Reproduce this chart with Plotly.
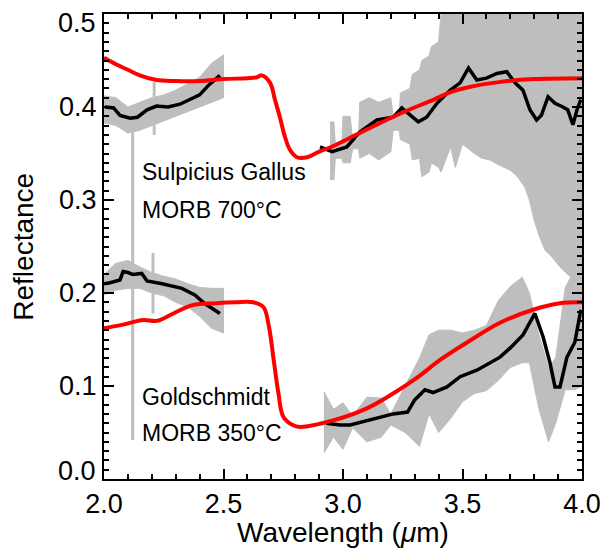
import plotly.graph_objects as go

# ---------------- data ----------------
# Sulpicius Gallus (upper) - model (red)
sg_model_x = [2.00, 2.05, 2.10, 2.15, 2.22, 2.30, 2.40, 2.50, 2.60, 2.64, 2.66, 2.695, 2.715, 2.736, 2.757,
              2.778, 2.807, 2.85, 2.90, 2.95, 3.07, 3.24, 3.38, 3.45, 3.52, 3.66, 3.80, 4.00]
sg_model_y = [0.453, 0.446, 0.440, 0.434, 0.429, 0.428, 0.428, 0.430, 0.431, 0.432, 0.434, 0.426, 0.408, 0.389, 0.368,
              0.354, 0.346, 0.346, 0.352, 0.357, 0.372, 0.393, 0.408, 0.416, 0.421, 0.427, 0.430, 0.431]
# Sulpicius Gallus - smoothed spectrum (black)
sg_obs1_x = [2.004, 2.04, 2.067, 2.11, 2.14, 2.18, 2.22, 2.268, 2.318, 2.36, 2.40, 2.44, 2.485]
sg_obs1_y = [0.400, 0.399, 0.391, 0.388, 0.389, 0.397, 0.401, 0.400, 0.403, 0.408, 0.413, 0.424, 0.434]
sg_obs2_x = [2.904, 2.954, 3.016, 3.07, 3.142, 3.21, 3.246, 3.315, 3.35, 3.393, 3.448, 3.49, 3.525, 3.56, 3.60,
             3.644, 3.685, 3.72, 3.753, 3.782, 3.81, 3.83, 3.858, 3.887, 3.92, 3.94, 3.962, 3.979, 3.995]
sg_obs2_y = [0.357, 0.352, 0.357, 0.373, 0.386, 0.389, 0.399, 0.384, 0.389, 0.404, 0.418, 0.426, 0.442, 0.429, 0.431,
             0.436, 0.438, 0.426, 0.418, 0.397, 0.386, 0.391, 0.411, 0.404, 0.400, 0.397, 0.381, 0.397, 0.408]
# Sulpicius Gallus - raw spectrum envelope (grey)
sg_raw1_x = [2.00, 2.05, 2.10, 2.15, 2.20, 2.25, 2.30, 2.35, 2.40, 2.45, 2.50]
sg_raw1_hi = [0.412, 0.410, 0.400, 0.405, 0.410, 0.413, 0.418, 0.425, 0.432, 0.447, 0.456]
sg_raw1_lo = [0.383, 0.380, 0.372, 0.375, 0.380, 0.385, 0.390, 0.395, 0.400, 0.405, 0.410]
sg_raw2_x = [2.946, 2.962, 2.968, 2.995, 3.00, 3.03, 3.04, 3.065, 3.07, 3.11, 3.15, 3.20, 3.21, 3.235, 3.24,
             3.28, 3.29, 3.32, 3.33, 3.36, 3.37, 3.40, 3.41, 3.45, 3.47, 3.50, 3.55, 3.58, 3.615, 3.65,
             3.70, 3.73, 3.76, 3.78, 3.80, 3.82, 3.845, 3.87, 3.908, 3.94, 3.97, 4.00]
sg_raw2_hi = [0.384, 0.384, 0.360, 0.360, 0.390, 0.390, 0.365, 0.365, 0.405, 0.410, 0.405, 0.410, 0.390, 0.390, 0.415,
              0.420, 0.435, 0.440, 0.450, 0.455, 0.465, 0.470, 0.500, 0.500, 0.500, 0.500, 0.500, 0.500, 0.500, 0.500,
              0.500, 0.500, 0.500, 0.500, 0.500, 0.500, 0.500, 0.500, 0.500, 0.500, 0.500, 0.500]
sg_raw2_lo = [0.322, 0.322, 0.345, 0.345, 0.340, 0.340, 0.355, 0.355, 0.345, 0.350, 0.343, 0.352, 0.375, 0.375, 0.365,
              0.360, 0.343, 0.345, 0.325, 0.330, 0.340, 0.335, 0.330, 0.357, 0.335, 0.360, 0.350, 0.345, 0.343, 0.338,
              0.332, 0.325, 0.314, 0.300, 0.278, 0.262, 0.246, 0.240, 0.228, 0.220, 0.214, 0.212]

# Goldschmidt (lower) - model (red)
gs_model_x = [2.00, 2.08, 2.165, 2.22, 2.29, 2.37, 2.47, 2.55, 2.625, 2.667, 2.69, 2.71, 2.73, 2.75, 2.79, 2.82,
              2.958, 3.10, 3.21, 3.31, 3.406, 3.52, 3.657, 3.795, 3.908, 4.00]
gs_model_y = [0.162, 0.166, 0.171, 0.170, 0.178, 0.187, 0.189, 0.190, 0.190, 0.185, 0.164, 0.128, 0.092, 0.067, 0.058,
              0.056, 0.063, 0.076, 0.092, 0.109, 0.128, 0.147, 0.168, 0.182, 0.189, 0.190]
# Goldschmidt - smoothed spectrum (black)
gs_obs1_x = [2.00, 2.025, 2.067, 2.08, 2.10, 2.12, 2.158, 2.18, 2.243, 2.326, 2.38, 2.42, 2.485]
gs_obs1_y = [0.210, 0.211, 0.214, 0.223, 0.222, 0.220, 0.221, 0.213, 0.210, 0.205, 0.198, 0.189, 0.178]
gs_obs2_x = [2.93, 2.987, 3.03, 3.10, 3.155, 3.21, 3.27, 3.30, 3.343, 3.377, 3.435, 3.49, 3.56, 3.60, 3.657,
             3.70, 3.753, 3.803, 3.837, 3.866, 3.887, 3.908, 3.937, 3.97, 3.995]
gs_obs2_y = [0.060, 0.058, 0.058, 0.063, 0.067, 0.070, 0.072, 0.085, 0.096, 0.093, 0.099, 0.110, 0.117, 0.123, 0.131,
             0.141, 0.155, 0.178, 0.153, 0.125, 0.099, 0.099, 0.131, 0.147, 0.182]
# Goldschmidt - raw spectrum envelope (grey)
gs_raw1_x = [2.00, 2.05, 2.10, 2.15, 2.20, 2.25, 2.30, 2.35, 2.40, 2.45, 2.50]
gs_raw1_hi = [0.220, 0.232, 0.235, 0.228, 0.222, 0.218, 0.215, 0.210, 0.206, 0.205, 0.205]
gs_raw1_lo = [0.198, 0.203, 0.205, 0.205, 0.200, 0.197, 0.190, 0.185, 0.175, 0.162, 0.157]
gs_raw2_x = [2.92, 2.96, 3.00, 3.04, 3.10, 3.16, 3.20, 3.26, 3.32, 3.36, 3.40, 3.45, 3.50, 3.55, 3.60,
             3.65, 3.70, 3.75, 3.78, 3.82, 3.86, 3.89, 3.93, 3.97, 4.00]
gs_raw2_hi = [0.094, 0.075, 0.082, 0.068, 0.088, 0.087, 0.070, 0.100, 0.130, 0.155, 0.160, 0.160, 0.157, 0.160, 0.165,
              0.192, 0.207, 0.217, 0.200, 0.155, 0.120, 0.130, 0.206, 0.225, 0.225]
gs_raw2_lo = [0.028, 0.045, 0.032, 0.055, 0.040, 0.045, 0.058, 0.050, 0.035, 0.070, 0.050, 0.065, 0.083, 0.092, 0.095,
              0.106, 0.120, 0.125, 0.125, 0.075, 0.040, 0.060, 0.096, 0.096, 0.100]

# single-channel spikes in the raw spectra (x, y_low, y_high)
spike_x = [2.12, 2.21, 2.205]
spike_lo = [0.042, 0.370, 0.178]
spike_hi = [0.390, 0.427, 0.243]

labels = [("Sulpicius Gallus", 0.330), ("MORB 700°C", 0.289),
          ("Goldschmidt", 0.088), ("MORB 350°C", 0.049)]
label_x = 2.15

xticks = [2.0, 2.5, 3.0, 3.5, 4.0]
yticks = [0.0, 0.1, 0.2, 0.3, 0.4, 0.5]
# end labels of the y axis sit slightly inside the frame in the original
yend_labels = [("0.5", 0.4903), ("0.0", 0.0086)]

GREY = "#bebebe"
FONT = "Liberation Sans, Arial, Helvetica, sans-serif"

fig = go.Figure()

def band(x, hi, lo):
    fig.add_trace(go.Scatter(x=list(x) + list(x)[::-1], y=list(hi) + list(lo)[::-1],
                             mode="lines", fill="toself", fillcolor=GREY,
                             line=dict(color=GREY, width=1), hoverinfo="skip", showlegend=False))

band(sg_raw1_x, sg_raw1_hi, sg_raw1_lo)
band(sg_raw2_x, sg_raw2_hi, sg_raw2_lo)
band(gs_raw1_x, gs_raw1_hi, gs_raw1_lo)
band(gs_raw2_x, gs_raw2_hi, gs_raw2_lo)
for sx, lo, hi in zip(spike_x, spike_lo, spike_hi):
    fig.add_trace(go.Scatter(x=[sx, sx], y=[lo, hi], mode="lines",
                             line=dict(color=GREY, width=3), showlegend=False))

for xs, ys in [(sg_obs1_x, sg_obs1_y), (sg_obs2_x, sg_obs2_y), (gs_obs1_x, gs_obs1_y), (gs_obs2_x, gs_obs2_y)]:
    fig.add_trace(go.Scatter(x=xs, y=ys, mode="lines", line=dict(color="black", width=3.5),
                             showlegend=False))
for xs, ys in [(sg_model_x, sg_model_y), (gs_model_x, gs_model_y)]:
    fig.add_trace(go.Scatter(x=xs, y=ys, mode="lines", line=dict(color="#ff0000", width=4, shape="spline"),
                             showlegend=False))

for txt, yv in labels:
    fig.add_annotation(x=label_x, y=yv, text=txt, showarrow=False, xanchor="left", yanchor="middle",
                       font=dict(size=23, color="black", family=FONT))

for txt, yv in yend_labels:
    fig.add_annotation(xref="paper", yref="y", x=-0.012, y=yv, text=txt, showarrow=False,
                       xanchor="right", yanchor="middle", font=dict(size=27, color="black", family=FONT))

fig.add_annotation(xref="paper", yref="paper", x=-0.169, y=0.5, text="Reflectance", textangle=-90,
                   showarrow=False, xanchor="center", yanchor="middle",
                   font=dict(size=28, color="black", family=FONT))
fig.add_annotation(xref="paper", yref="paper", x=0.5, y=-0.114, text="Wavelength (<i>μ</i>m)",
                   showarrow=False, xanchor="center", yanchor="middle",
                   font=dict(size=28, color="black", family=FONT))

axis_common = dict(showgrid=False, zeroline=False, showline=True, linecolor="black", linewidth=2,
                   mirror="allticks", ticks="inside", ticklen=10, tickwidth=2, tickcolor="black",
                   tickfont=dict(size=27, color="black", family=FONT))
fig.update_xaxes(range=[2.0, 4.0], tickvals=xticks, ticktext=[f"{v:.1f}" for v in xticks],
                 minor=dict(dtick=0.1, ticks="inside", ticklen=5, tickwidth=1.5, tickcolor="black"),
                 **axis_common)
fig.update_yaxes(range=[0.0, 0.5], tickvals=yticks,
                 ticktext=["" if v in (0.0, 0.5) else f"{v:.1f}" for v in yticks],
                 minor=dict(dtick=0.01, ticks="inside", ticklen=5, tickwidth=1.5, tickcolor="black"),
                 **axis_common)

fig.update_layout(width=603, height=548, margin=dict(l=104, r=21, t=14, b=69, autoexpand=False),
                  plot_bgcolor="white", paper_bgcolor="white", showlegend=False)

fig.write_html("out.html")
